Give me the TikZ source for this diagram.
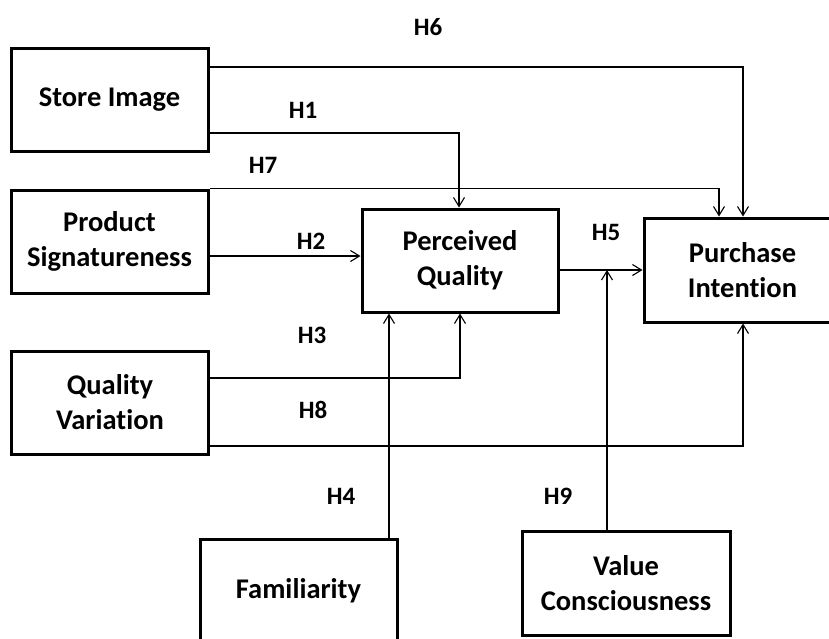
\documentclass[tikz,border=0pt]{standalone}
\usepackage{fontspec}
\setmainfont{Carlito}[Ligatures=NoCommon]
\usetikzlibrary{arrows.meta}
\begin{document}
\begin{tikzpicture}[x=1pt,y=-1pt,
  box/.style={draw, line width=3pt, rectangle, inner sep=0pt, minimum width=197pt, minimum height=103pt, align=center, font=\fontsize{28.5}{35}\selectfont\bfseries},
  lbl/.style={font=\fontsize{25}{27}\selectfont\bfseries, inner sep=0pt},
  conn/.style={line width=1.1pt, -{Straight Barb[length=9pt,width=11pt]}}]
\useasboundingbox (0,0) rectangle (829,638);
% boxes
\node[box] (si) at (109.5,99.5) {Store Image};
\node[box] (ps) at (109.5,241.5) {Product\\Signatureness};
\node[box] (qv) at (110,402.5) {Quality\\Variation};
\node[box, minimum width=196pt] (pq) at (460,260.5) {Perceived\\Quality};
\node[box, minimum height=104pt] (pi) at (742.5,270) {Purchase\\Intention};
\node[box] (fa) at (298.5,590.5) {Familiarity};
\node[box, minimum width=208pt, minimum height=104pt] (vc) at (626,583) {Value\\Consciousness};
% helper coordinates
\coordinate (y6) at (0,67);
\coordinate (x6) at (743,0);
\coordinate (y1) at (0,133);
\coordinate (x1) at (459,0);
\coordinate (x7) at (719,0);
\coordinate (y2) at (0,256);
\coordinate (y5) at (0,270);
\coordinate (y3) at (0,378);
\coordinate (x3) at (460,0);
\coordinate (y8) at (0,446);
\coordinate (x4) at (389,0);
\coordinate (x9) at (607,0);
\coordinate (h9end) at (x9 |- y5);
% connectors
\draw[conn] (si.east |- y6) -| (pi.north -| x6);
\draw[conn] (si.east |- y1) -| (pq.north -| x1);
\draw[conn] (ps.north east) -| (pi.north -| x7);
\draw[conn] (ps.east |- y2) -- (pq.west |- y2);
\draw[conn] (pq.east |- y5) -- (pi.west |- y5);
\draw[conn] (qv.east |- y3) -| (pq.south -| x3);
\draw[conn] (qv.east |- y8) -| (pi.south -| x6);
\draw[conn] (fa.north -| x4) -- (pq.south -| x4);
\draw[conn] (vc.north -| x9) -- (h9end);
% labels
\node[lbl] (l6) at (428,27) {H6};
\node[lbl] (l1) at (303,110) {H1};
\node[lbl] (l7) at (263,165) {H7};
\node[lbl] (l2) at (311,241) {H2};
\node[lbl] (l5) at (606,232) {H5};
\node[lbl] (l3) at (312,335) {H3};
\node[lbl] (l8) at (313,410) {H8};
\node[lbl] (l4) at (341,496) {H4};
\node[lbl] (l9) at (558,496) {H9};
\end{tikzpicture}
\end{document}
